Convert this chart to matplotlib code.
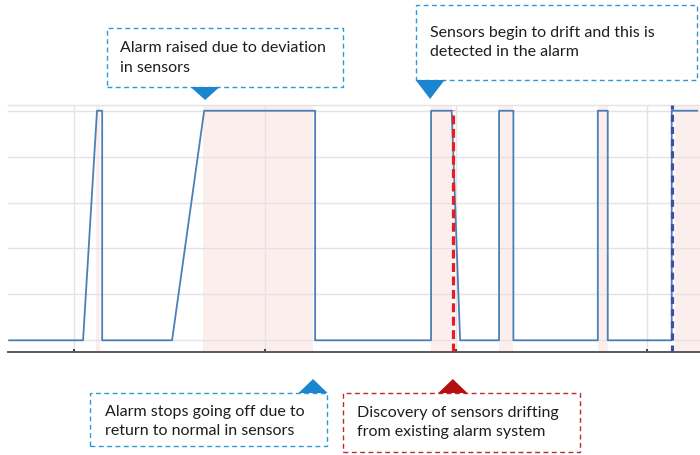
import matplotlib
matplotlib.use("Agg")
import matplotlib.pyplot as plt
from matplotlib.patches import Rectangle, Polygon

# ---- data ----
alarm_time = [-3.4, 0.47, 1.20, 1.47, 1.47, 5.13, 6.81, 12.62, 12.62, 18.69, 18.69,
              19.77, 20.21, 22.25, 22.25, 23.0, 23.0, 27.42, 27.42, 27.94, 27.94,
              31.29, 31.29, 32.62]
alarm_state = [0, 0, 1, 1, 0, 0, 1, 1, 0, 0, 1, 1, 0, 0, 1, 1, 0, 0, 1, 1, 0, 0, 1, 1]
shade_start = [1.13, 6.75, 18.69, 22.25, 27.43, 31.47]
shade_end = [1.36, 12.51, 19.79, 22.98, 27.96, 32.77]
drift_discovery = 19.83
current_time = 31.29
x_ticks = [0, 10, 20, 30]
y_ticks = [0, 0.2, 0.4, 0.6, 0.8, 1.0]

notes_text = ["Alarm raised due to deviation\nin sensors",
              "Sensors begin to drift and this is\ndetected in the alarm",
              "Alarm stops going off due to\nreturn to normal in sensors",
              "Discovery of sensors drifting\nfrom existing alarm system"]
notes_target = [6.86, 18.64, 12.51, 19.83]

W, H = 700, 455
fig = plt.figure(figsize=(7, 4.55), dpi=100)
plt.rcParams['font.family'] = ['Lato', 'DejaVu Sans']

def fx(px):
    return px / W

def fy(py):
    return 1 - py / H

ax = fig.add_axes([fx(8), fy(352), fx(700) - fx(8), fy(105) - fy(352)])
ax.set_xlim(-3.46, 32.77)
ax.set_ylim(-0.051, 1.025)

for s, e in zip(shade_start, shade_end):
    ax.axvspan(s, e, color="#fdeeee", zorder=0, lw=0)

ax.set_xticks(x_ticks)
ax.set_yticks(y_ticks)
ax.grid(True, color="#e3e3e3", lw=1.0, zorder=1)
ax.tick_params(axis="x", direction="in", length=2, width=1.2, color="#222",
               labelbottom=False)
ax.tick_params(axis="y", length=0, labelleft=False)
for side in ["left", "right"]:
    ax.spines[side].set_visible(False)
ax.spines["top"].set_color("#e3e3e3")
ax.spines["top"].set_linewidth(1.0)
ax.spines["bottom"].set_color("#5a5a5a")
ax.spines["bottom"].set_linewidth(1.4)

ax.plot(alarm_time, alarm_state, color="#4a80b8", lw=1.3, zorder=3)
ax.axvline(drift_discovery, ymin=0, ymax=0.98, color="#e81c24", lw=2.3,
           dashes=(2.8, 1.4), zorder=4)
ax.axvline(current_time, ymin=0, ymax=1.0, color="#3f4f9f", lw=2.3,
           dashes=(2.2, 1.6), zorder=4)

# ---- annotations ----
blue_b = "#2c9ad6"
blue_t = "#1b86cf"
red_b = "#c0282c"
red_t = "#b50f0f"
boxes = [(107, 28, 343, 87, blue_b, blue_t, "down", 120, 100),
         (416, 5, 697, 80, blue_b, blue_t, "down", 430, 99),
         (90, 393, 327, 446, blue_b, blue_t, "up", 105, 379),
         (343, 393, 580, 452, red_b, red_t, "up", 357, 379)]
lines_y = [(48, 68), (33, 52), (412, 431), (413, 432)]

for (x0, y0, x1, y1, bc, tc, dirn, tx, tipy), txt, tgt, ly in zip(
        boxes, notes_text, notes_target, lines_y):
    rect = Rectangle((fx(x0), fy(y1)), fx(x1) - fx(x0), fy(y0) - fy(y1),
                     transform=fig.transFigure, fill=True, facecolor="white",
                     edgecolor=bc, lw=1.0, linestyle=(0, (3.5, 2.5)), zorder=5)
    fig.add_artist(rect)
    half = 14.5 / W
    base = fy(y1) if dirn == "down" else fy(y0)
    xfig = fig.transFigure.inverted().transform(ax.transData.transform((tgt, 0)))[0]
    tri = Polygon([(xfig - half, base), (xfig + half, base), (xfig, fy(tipy))],
                  closed=True, transform=fig.transFigure, facecolor=tc,
                  edgecolor="none", zorder=6)
    fig.add_artist(tri)
    l1, l2 = txt.split("\n")
    fig.text(fx(tx), fy(ly[0]), l1, fontsize=11.5, color="#1e1e1e",
             va="center", ha="left", zorder=7)
    fig.text(fx(tx), fy(ly[1]), l2, fontsize=11.5, color="#1e1e1e",
             va="center", ha="left", zorder=7)

fig.savefig("out.png", dpi=100)
